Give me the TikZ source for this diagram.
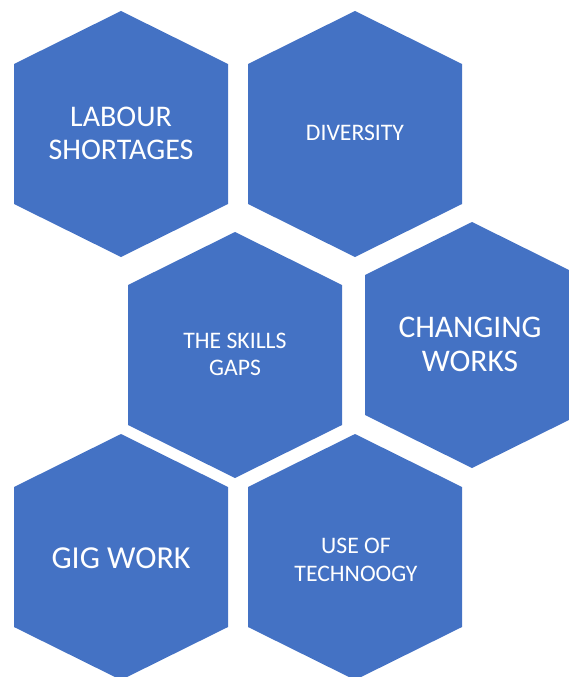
\documentclass[tikz,border=0pt]{standalone}
\usepackage{fontspec}
\setmainfont{Carlito}
\definecolor{hexblue}{HTML}{4472C4}
\tikzset{
  hexfill/.style={fill=hexblue},
  bigtext/.style={text=white, align=center, font=\fontsize{31.5}{34}\selectfont, inner sep=0pt},
  smalltext/.style={text=white, align=center, font=\fontsize{23.7}{27.5}\selectfont, inner sep=0pt}
}
\newcommand\hexcell[1]{\fill[hexfill] (#1) ++(0,-123) -- ++(107,53) -- ++(0,140) -- ++(-107,53) -- ++(-107,-53) -- ++(0,-140) -- cycle;}
\begin{document}
\begin{tikzpicture}[x=1pt,y=-1pt]
\useasboundingbox (0,0) rectangle (569,677);
\clip (0,0) rectangle (569,677);
\coordinate (c1) at (121,134);
\coordinate (c2) at (355,134);
\coordinate (c3) at (235,355);
\coordinate (c4) at (472,345);
\coordinate (c5) at (121,557);
\coordinate (c6) at (355,557);
\hexcell{c1}
\hexcell{c2}
\hexcell{c3}
\hexcell{c4}
\hexcell{c5}
\hexcell{c6}
\node[bigtext, font=\fontsize{30}{33}\selectfont] (t1) at (121,133) {LABOUR\\SHORTAGES};
\node[smalltext] (t2) at (355,133) {DIVERSITY};
\node[smalltext] (t3) at (235,354.5) {THE SKILLS\\GAPS};
\node[bigtext] (t4) at (470,344) {CHANGING\\WORKS};
\node[bigtext, font=\fontsize{32}{35}\selectfont] (t5) at (121,558) {GIG WORK};
\node[smalltext] (t6) at (356,560) {USE OF\\TECHNOOGY};
\end{tikzpicture}
\end{document}
